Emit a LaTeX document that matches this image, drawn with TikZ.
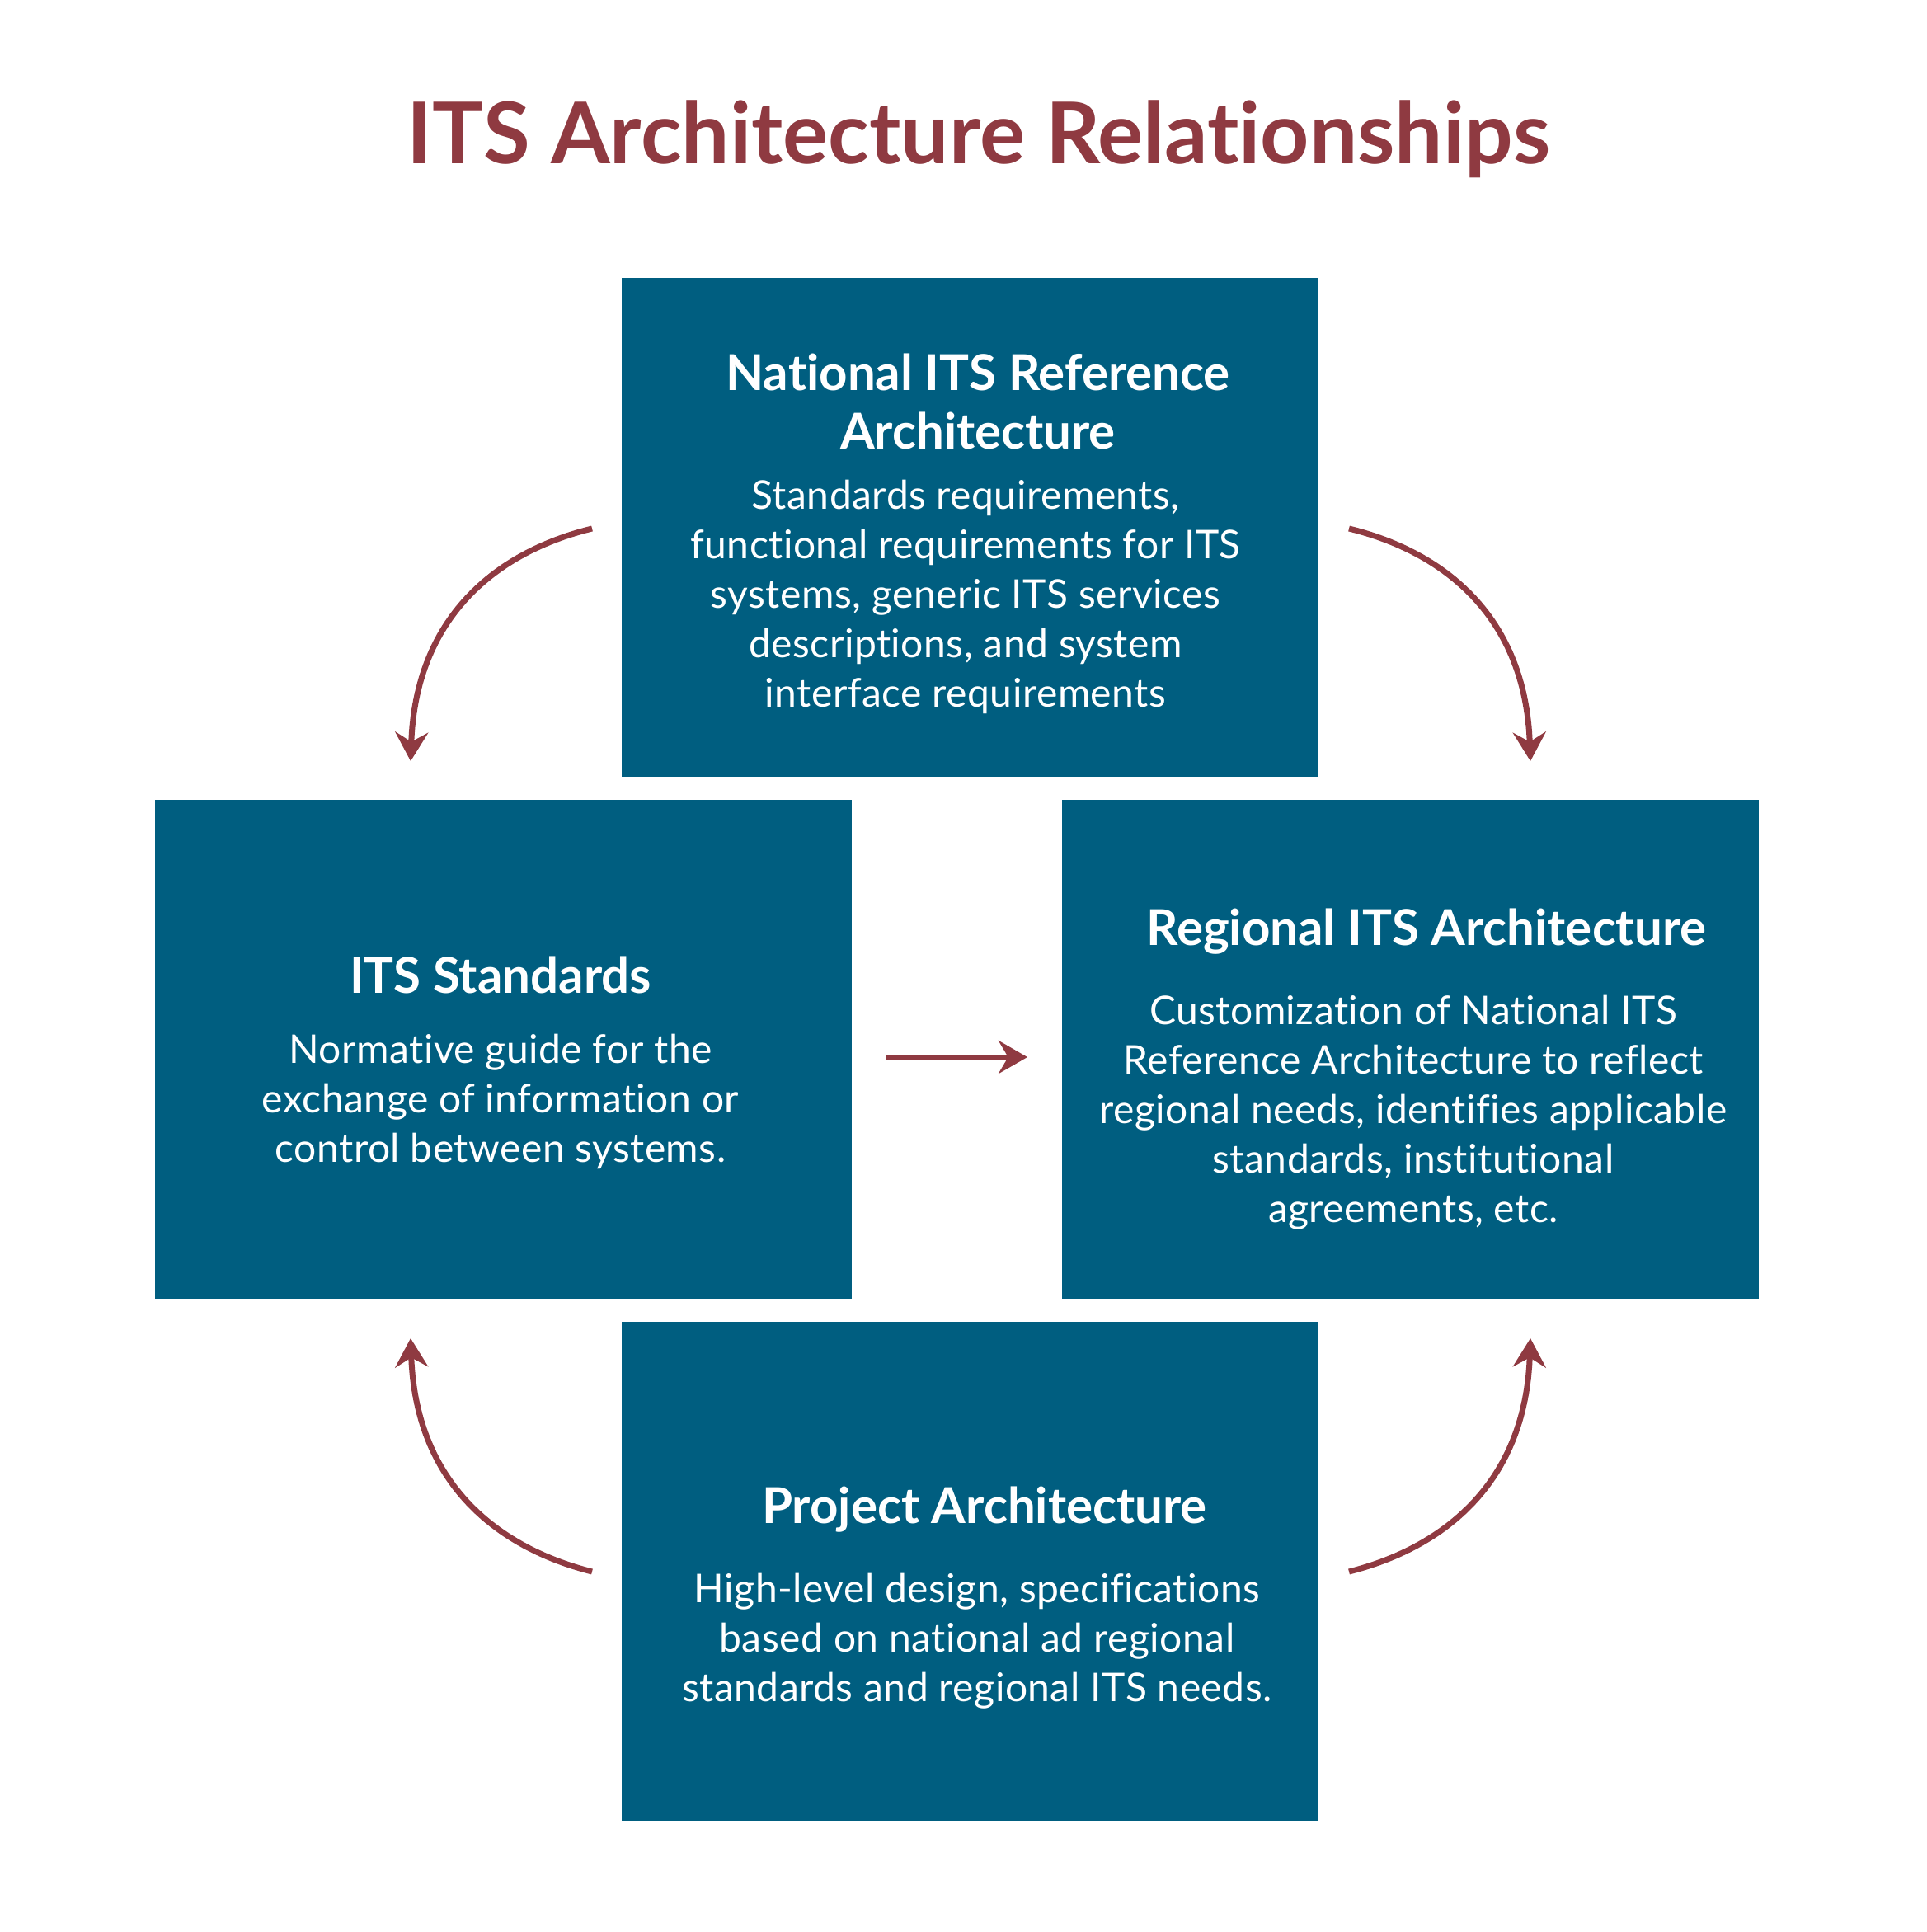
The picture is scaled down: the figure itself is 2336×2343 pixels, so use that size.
\documentclass[tikz,border=0pt]{standalone}
\usepackage{fontspec}
\setmainfont{Lato}[Ligatures=NoCommon]
\newfontfamily\bodyfont{Lato}[Ligatures=NoCommon, LetterSpace=1.0]
\usetikzlibrary{arrows.meta}
\definecolor{boxblue}{RGB}{0,94,128}
\definecolor{arrowred}{RGB}{143,58,65}
\begin{document}
\begin{tikzpicture}[x=0.3pt,y=-0.3pt,
  itsbox/.style={fill=boxblue, draw=none, minimum width=253.5pt, minimum height=181.5pt, inner sep=0pt},
  maintitle/.style={anchor=base, text=arrowred, inner sep=0pt, font=\fontsize{31}{35}\selectfont\bfseries},
  boxtitle/.style={anchor=base, text=white, inner sep=0pt, font=\fontsize{18}{21.3}\selectfont\bfseries},
  boxbody/.style={anchor=base, text=white, inner sep=0pt, font=\bodyfont\fontsize{14.4}{18}\selectfont},
  flow/.style={draw=arrowred, line width=2.1pt, -{Stealth[length=10.5pt,width=12pt,inset=3.5pt]}}
]
\path[use as bounding box, fill=white] (0,0) rectangle (2336,2343);

\node[maintitle] (title) at (1187,199) {ITS Architecture Relationships};

% boxes
\node[itsbox] (natl) at (1176.5,639.5) {};
\node[itsbox] (stds) at (610,1272.5) {};
\node[itsbox] (regl) at (1710.5,1272.5) {};
\node[itsbox] (proj) at (1176.5,1905.5) {};

% texts
\node[boxtitle] (natlT) at (1186,473) {\begin{tabular}[t]{@{}c@{}}National ITS Reference\\Architecture\end{tabular}};
\node[boxbody] (natlB) at (1171,617) {\begin{tabular}[t]{@{}c@{}}Standards requirements,\\functional requirements for ITS\\systems, generic ITS services\\descriptions, and system\\interface requirements\end{tabular}};

\node[boxtitle] (stdsT) at (607,1204) {ITS Standards};
\node[boxbody] (stdsB) at (607,1289) {\begin{tabular}[t]{@{}c@{}}Normative guide for the\\exchange of information or\\control between systems.\end{tabular}};

\node[boxtitle] (reglT) at (1730,1146) {Regional ITS Architecture};
\node[boxbody] (reglB) at (1714,1242) {\begin{tabular}[t]{@{}c@{}}Customization of National ITS\\Reference Architecture to reflect\\regional needs, identifies applicable\\standards, institutional\\agreements, etc.\end{tabular}};

\node[boxtitle] (projT) at (1194,1847) {Project Architecture};
\node[boxbody] (projB) at (1185,1943) {\begin{tabular}[t]{@{}c@{}}High-level design, specifications\\based on national ad regional\\standards and regional ITS needs.\end{tabular}};

% arrow end points
\coordinate (tlS) at (718,641);  \coordinate (tlE) at (498,923);
\coordinate (trS) at (1636,641); \coordinate (trE) at (1856,923);
\coordinate (blS) at (718,1906); \coordinate (blE) at (498,1623);
\coordinate (brS) at (1636,1906);\coordinate (brE) at (1856,1623);
\coordinate (mS) at (1074,1282); \coordinate (mE) at (1246,1282);

\draw[flow] (tlS) .. controls (600,670) and (504,750) .. (tlE);
\draw[flow] (trS) .. controls (1754,670) and (1850,750) .. (trE);
\draw[flow] (blS) .. controls (600,1876) and (504,1796) .. (blE);
\draw[flow] (brS) .. controls (1754,1876) and (1850,1796) .. (brE);
\draw[flow] (mS) -- (mE);
\end{tikzpicture}
\end{document}
